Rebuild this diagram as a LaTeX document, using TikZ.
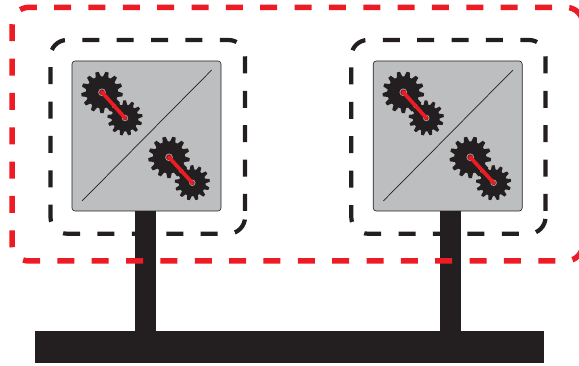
\documentclass[tikz,border=0pt]{standalone}
\usetikzlibrary{calc}
\definecolor{inkblack}{HTML}{231F20}
\definecolor{inkred}{HTML}{ED1C24}
\definecolor{panelgrey}{HTML}{BCBEC0}
\tikzset{
  panelbox/.style={draw=inkblack,line width=0.6pt,fill=panelgrey,rounded corners=3pt,minimum width=149pt,minimum height=150pt,inner sep=0pt,outer sep=0pt},
  busbar/.style={fill=inkblack,draw=none,minimum width=508.5pt,minimum height=32pt,inner sep=0pt,outer sep=0pt},
  polebar/.style={inkblack,line width=21pt},
  blackdash/.style={inkblack,line width=4.2pt,dash pattern=on 17pt off 17.4pt,rounded corners=16.5pt},
  reddash/.style={inkred,line width=5.5pt,dash pattern=on 17pt off 17.35pt,dash phase=22.35pt,rounded corners=17pt},
  diag/.style={inkblack,line width=0.7pt},
  crank/.style={inkred,line width=3.7pt,line cap=round},
  ringbig/.style={draw=white!55!inkblack,line width=0.8pt,fill=inkred!70!black},
}
% centre x, centre y, outer radius, root radius, teeth, rotation
\newcommand{\gearwheel}[6]{%
  \pgfmathsetmacro{\gearp}{360/#5}%
  \fill[inkblack,shift={(#1,#2)},rotate=#6]
    (-0.36*\gearp:#4)
    \foreach \gi in {1,...,#5}{
      -- ({(\gi-1)*\gearp-0.36*\gearp}:#4)
      -- ({(\gi-1)*\gearp-0.16*\gearp}:#3)
      -- ({(\gi-1)*\gearp+0.16*\gearp}:#3)
      -- ({(\gi-1)*\gearp+0.36*\gearp}:#4)
    } -- cycle;
}
% big centre, small centre
\newcommand{\gearpair}[4]{%
  \gearwheel{#1}{#2}{20.8}{16}{13}{-90}
  \gearwheel{#3}{#4}{17.6}{13.4}{13}{-75}
  \draw[ringbig] (#1,#2) circle (3.4);
  \draw[ringbig] (#3,#4) circle (2.8);
  \draw[crank] (#1,#2) -- (#3,#4);
}
\newcommand{\panelcontent}[1]{%
  \begin{scope}[xshift=#1pt]
    \draw[diag] (82,201) -- (211.7,70);
    \gearpair{102}{92.3}{125}{118}
    \gearpair{169}{157.3}{192.3}{182.8}
  \end{scope}
}
\begin{document}
\begin{tikzpicture}[x=1pt,y=-1pt]
  \useasboundingbox (0,0) rectangle (579,366);
  \clip (0,0) rectangle (579,366);
  \node[busbar] (bus) at (289.25,347) {};
  \node[panelbox] (panelA) at (146.5,136) {};
  \node[panelbox] (panelB) at (447.7,136) {};
  \coordinate (poleA) at (145.3,300);
  \coordinate (poleB) at (450.4,300);
  \draw[polebar] (poleA |- panelA.south) -- (poleA |- bus.north);
  \draw[polebar] (poleB |- panelB.south) -- (poleB |- bus.north);
  \panelcontent{0}
  \panelcontent{301.3}
  \draw[blackdash] (245,211) -- (245,40) -- (50.5,40) -- (50.5,233.7) -- (245,233.7) -- (245,211);
  \draw[blackdash] (545.5,211) -- (545.5,40) -- (351.3,40) -- (351.3,233.7) -- (545.5,233.7) -- (545.5,211);
  \draw[reddash] (583,30) -- (583,7.3) -- (12,7.3) -- (12,261) -- (583,261) -- (583,30);
\end{tikzpicture}
\end{document}
